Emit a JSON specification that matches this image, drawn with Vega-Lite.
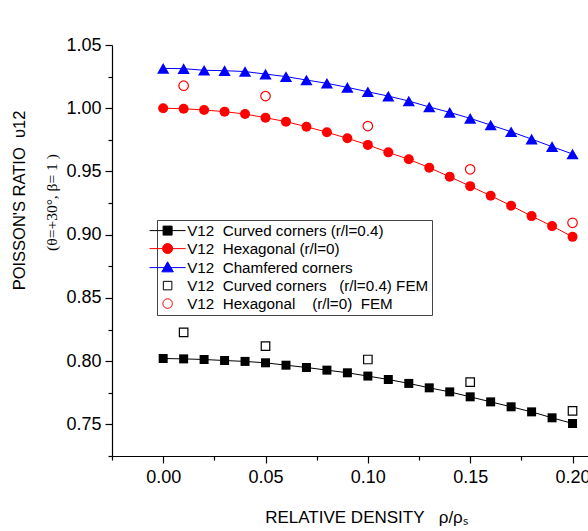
{
  "$schema": "https://vega.github.io/schema/vega-lite/v6.json",
  "width": 481,
  "height": 411,
  "autosize": {"type": "none"},
  "padding": {"left": 112, "top": 45, "right": 0, "bottom": 75},
  "background": "white",
  "config": {
    "view": {"stroke": null},
    "axis": {
      "grid": false,
      "labelFont": "Liberation Sans",
      "titleFont": "Liberation Sans",
      "domainColor": "black",
      "tickColor": "black",
      "labelColor": "black",
      "titleColor": "black",
      "titleFontWeight": "normal",
      "labelFlush": false,
      "labelOverlap": false,
      "domainWidth": 1.2,
      "tickWidth": 1.2
    }
  },
  "datasets": {
    "d": [
      {"x": 0.00, "v": 0.8021, "s": "c"}, {"x": 0.01, "v": 0.8018, "s": "c"}, {"x": 0.02, "v": 0.8013, "s": "c"},
      {"x": 0.03, "v": 0.8005, "s": "c"}, {"x": 0.04, "v": 0.7998, "s": "c"}, {"x": 0.05, "v": 0.7987, "s": "c"},
      {"x": 0.06, "v": 0.7968, "s": "c"}, {"x": 0.07, "v": 0.7950, "s": "c"}, {"x": 0.08, "v": 0.7929, "s": "c"},
      {"x": 0.09, "v": 0.7908, "s": "c"}, {"x": 0.10, "v": 0.7882, "s": "c"}, {"x": 0.11, "v": 0.7855, "s": "c"},
      {"x": 0.12, "v": 0.7824, "s": "c"}, {"x": 0.13, "v": 0.7789, "s": "c"}, {"x": 0.14, "v": 0.7757, "s": "c"},
      {"x": 0.15, "v": 0.7718, "s": "c"}, {"x": 0.16, "v": 0.7678, "s": "c"}, {"x": 0.17, "v": 0.7639, "s": "c"},
      {"x": 0.18, "v": 0.7599, "s": "c"}, {"x": 0.19, "v": 0.7552, "s": "c"}, {"x": 0.20, "v": 0.7507, "s": "c"},
      {"x": 0.00, "v": 1.0000, "s": "h"}, {"x": 0.01, "v": 0.9996, "s": "h"}, {"x": 0.02, "v": 0.9986, "s": "h"},
      {"x": 0.03, "v": 0.9973, "s": "h"}, {"x": 0.04, "v": 0.9954, "s": "h"}, {"x": 0.05, "v": 0.9925, "s": "h"},
      {"x": 0.06, "v": 0.9894, "s": "h"}, {"x": 0.07, "v": 0.9854, "s": "h"}, {"x": 0.08, "v": 0.9810, "s": "h"},
      {"x": 0.09, "v": 0.9762, "s": "h"}, {"x": 0.10, "v": 0.9710, "s": "h"}, {"x": 0.11, "v": 0.9651, "s": "h"},
      {"x": 0.12, "v": 0.9596, "s": "h"}, {"x": 0.13, "v": 0.9530, "s": "h"}, {"x": 0.14, "v": 0.9458, "s": "h"},
      {"x": 0.15, "v": 0.9384, "s": "h"}, {"x": 0.16, "v": 0.9308, "s": "h"}, {"x": 0.17, "v": 0.9229, "s": "h"},
      {"x": 0.18, "v": 0.9147, "s": "h"}, {"x": 0.19, "v": 0.9068, "s": "h"}, {"x": 0.20, "v": 0.8983, "s": "h"},
      {"x": 0.00, "v": 1.0315, "s": "t"}, {"x": 0.01, "v": 1.0313, "s": "t"}, {"x": 0.02, "v": 1.0300, "s": "t"},
      {"x": 0.03, "v": 1.0297, "s": "t"}, {"x": 0.04, "v": 1.0290, "s": "t"}, {"x": 0.05, "v": 1.0270, "s": "t"},
      {"x": 0.06, "v": 1.0250, "s": "t"}, {"x": 0.07, "v": 1.0223, "s": "t"}, {"x": 0.08, "v": 1.0197, "s": "t"},
      {"x": 0.09, "v": 1.0165, "s": "t"}, {"x": 0.10, "v": 1.0130, "s": "t"}, {"x": 0.11, "v": 1.0096, "s": "t"},
      {"x": 0.12, "v": 1.0057, "s": "t"}, {"x": 0.13, "v": 1.0010, "s": "t"}, {"x": 0.14, "v": 0.9967, "s": "t"},
      {"x": 0.15, "v": 0.9920, "s": "t"}, {"x": 0.16, "v": 0.9867, "s": "t"}, {"x": 0.17, "v": 0.9814, "s": "t"},
      {"x": 0.18, "v": 0.9756, "s": "t"}, {"x": 0.19, "v": 0.9696, "s": "t"}, {"x": 0.20, "v": 0.9638, "s": "t"},
      {"x": 0.01, "v": 0.8227, "s": "cf"}, {"x": 0.05, "v": 0.8119, "s": "cf"}, {"x": 0.10, "v": 0.8013, "s": "cf"},
      {"x": 0.15, "v": 0.7834, "s": "cf"}, {"x": 0.20, "v": 0.7607, "s": "cf"},
      {"x": 0.01, "v": 1.0178, "s": "hf"}, {"x": 0.05, "v": 1.0096, "s": "hf"}, {"x": 0.10, "v": 0.9859, "s": "hf"},
      {"x": 0.15, "v": 0.9517, "s": "hf"}, {"x": 0.20, "v": 0.9094, "s": "hf"}
    ]
  },
  "data": {"name": "d"},
  "layer": [
    {
      "encoding": {
        "x": {
          "field": "x", "type": "quantitative",
          "scale": {"domain": [-0.025, 0.21], "nice": false, "zero": false},
          "axis": {
            "orient": "bottom",
            "values": [0, 0.05, 0.1, 0.15, 0.2],
            "format": ".2f",
            "tickSize": 7,
            "labelFontSize": 18,
            "labelPadding": 5,
            "title": "RELATIVE DENSITY\u00a0\u00a0\u00a0ρ/ρₛ",
            "titleFontSize": 17,
            "titleX": 254,
            "titleY": 61,
            "titleBaseline": "middle",
            "titleAlign": "center"
          }
        },
        "y": {
          "field": "v", "type": "quantitative",
          "scale": {"domain": [0.725, 1.05], "nice": false, "zero": false},
          "axis": {
            "orient": "left",
            "values": [0.75, 0.8, 0.85, 0.9, 0.95, 1.0, 1.05],
            "format": ".2f",
            "tickSize": 7,
            "labelFontSize": 18,
            "labelPadding": 4,
            "title": "(θ=+30°, β= 1 )",
            "titleFont": "Liberation Serif",
            "titleFontSize": 15.5,
            "titleAngle": -90,
            "titleX": -61,
            "titleY": 157,
            "titleBaseline": "middle",
            "titleAlign": "center"
          }
        }
      },
      "layer": [
        {
          "transform": [{"filter": {"field": "s", "oneOf": ["c", "h", "t"]}}],
          "mark": {"type": "line", "strokeWidth": 1},
          "encoding": {
            "color": {"field": "s", "type": "nominal", "scale": {"domain": ["c", "h", "t"], "range": ["black", "red", "blue"]}, "legend": null}
          }
        },
        {
          "transform": [{"filter": {"field": "s", "equal": "c"}}],
          "mark": {"type": "point", "shape": "square", "filled": true, "color": "black", "opacity": 1, "size": 81}
        },
        {
          "transform": [{"filter": {"field": "s", "equal": "h"}}],
          "mark": {"type": "point", "shape": "circle", "filled": true, "color": "red", "opacity": 1, "size": 100}
        },
        {
          "transform": [{"filter": {"field": "s", "equal": "t"}}],
          "mark": {"type": "point", "shape": "triangle-up", "filled": true, "color": "blue", "opacity": 1, "size": 150}
        },
        {
          "transform": [{"filter": {"field": "s", "oneOf": ["cf", "hf"]}}],
          "mark": {"type": "point", "size": 100, "strokeWidth": 1.2, "opacity": 1},
          "encoding": {
            "shape": {
              "field": "s", "type": "nominal",
              "scale": {
                "domain": ["c", "h", "t", "cf", "hf"],
                "range": [
                  "M-3.6,0H3.6M-0.9,-0.9H0.9V0.9H-0.9Z",
                  "M-3.6,0H3.6M1,0A1,1,0,1,1,-1,0A1,1,0,1,1,1,0Z",
                  "M-3.6,0H3.6M0,-1.15L1.15,0.85L-1.15,0.85Z",
                  "M-0.85,-0.85H0.85V0.85H-0.85Z",
                  "M0.95,0A0.95,0.95,0,1,1,-0.95,0A0.95,0.95,0,1,1,0.95,0Z"
                ]
              },
              "legend": {
                "title": null,
                "orient": "none",
                "legendX": 45,
                "legendY": 175,
                "padding": 3,
                "strokeColor": "#444",
                "fillColor": "white",
                "symbolSize": 100,
                "symbolStrokeWidth": 1,
                "labelFont": "Liberation Sans",
                "labelFontSize": 15.2,
                "labelColor": "black",
                "labelOffset": 12,
                "labelLimit": 400,
                "rowPadding": 2,
                "labelExpr": "datum.label=='c'?'V12\u00a0 Curved corners (r/l=0.4)':datum.label=='h'?'V12\u00a0 Hexagonal (r/l=0)':datum.label=='t'?'V12\u00a0 Chamfered corners':datum.label=='cf'?'V12\u00a0 Curved corners\u00a0\u00a0 (r/l=0.4) FEM':'V12\u00a0 Hexagonal\u00a0\u00a0\u00a0 (r/l=0)\u00a0 FEM'"
              }
            },
            "fill": {
              "field": "s", "type": "nominal",
              "scale": {"domain": ["c", "h", "t", "cf", "hf"], "range": ["black", "red", "blue", "transparent", "transparent"]}
            },
            "stroke": {
              "field": "s", "type": "nominal",
              "scale": {"domain": ["c", "h", "t", "cf", "hf"], "range": ["black", "red", "blue", "black", "red"]}
            }
          }
        }
      ]
    },
    {
      "mark": {"type": "point", "opacity": 0},
      "encoding": {
        "x": {
          "field": "x", "type": "quantitative",
          "scale": {"domain": [-0.025, 0.21], "nice": false, "zero": false},
          "axis": {
            "orient": "bottom",
            "values": [-0.025, 0.025, 0.075, 0.125, 0.175],
            "labels": false,
            "domain": false,
            "tickSize": 4,
            "title": null
          }
        },
        "y": {
          "field": "v", "type": "quantitative",
          "scale": {"domain": [0.725, 1.05], "nice": false, "zero": false},
          "axis": {
            "orient": "left",
            "values": [0.725, 0.775, 0.825, 0.875, 0.925, 0.975, 1.025],
            "labels": false,
            "domain": false,
            "tickSize": 4,
            "title": "POISSON'S RATIO\u00a0\u00a0υ12",
            "titleFontSize": 16.5,
            "titleAngle": -90,
            "titleX": -93,
            "titleY": 155,
            "titleBaseline": "middle",
            "titleAlign": "center"
          }
        }
      }
    }
  ],
  "resolve": {"scale": {"x": "independent", "y": "independent"}}
}
